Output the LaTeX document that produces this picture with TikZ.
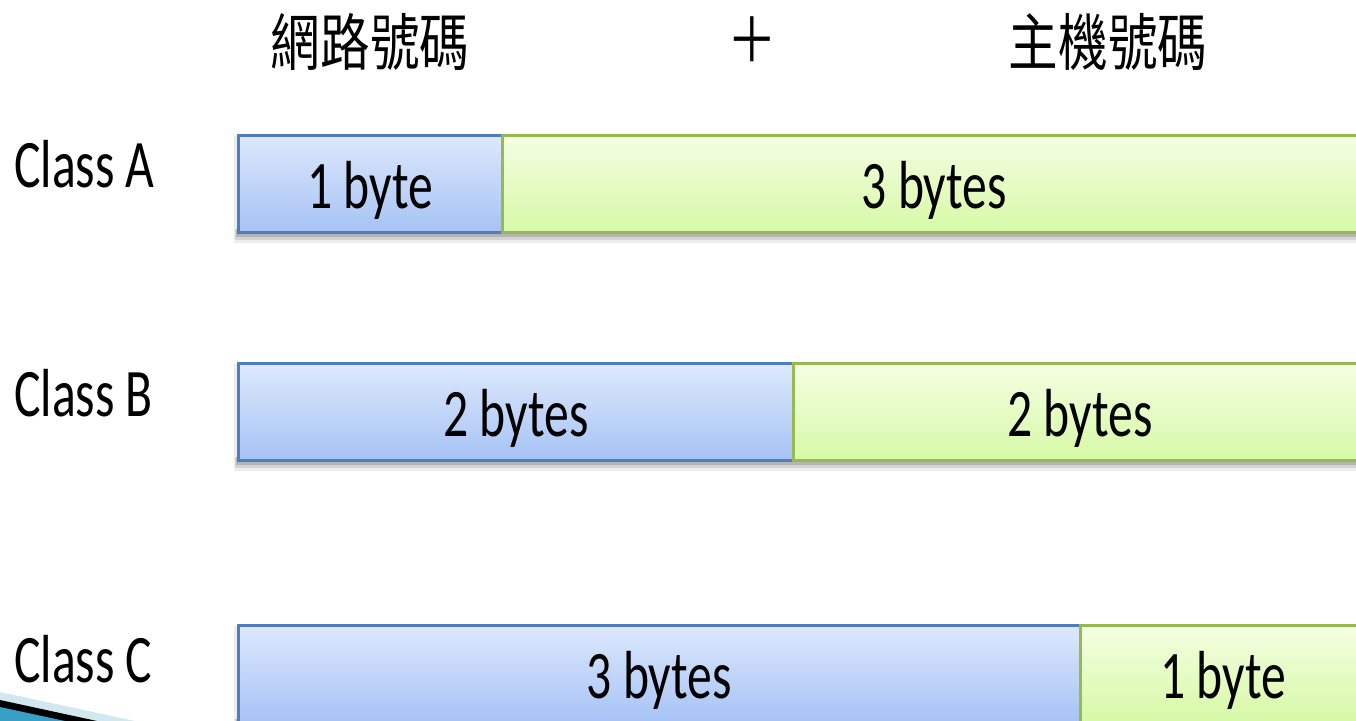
\documentclass[tikz,border=0pt]{standalone}
\usepackage{fontspec}
\setmainfont[FakeStretch=0.73]{Carlito}
\newfontfamily\cjk[FakeStretch=0.8]{Noto Sans CJK TC}
\usetikzlibrary{calc}
\definecolor{bluetop}{HTML}{DDE8FC}
\definecolor{bluebot}{HTML}{A6C3F5}
\definecolor{blueline}{HTML}{4F7EC0}
\definecolor{greentop}{HTML}{F5FEE3}
\definecolor{greenbot}{HTML}{D6F9A6}
\definecolor{greenline}{HTML}{96B952}
\definecolor{decoblue}{HTML}{D3E7EF}
\definecolor{decoteal}{HTML}{3A9FC6}
\begin{document}
\begin{tikzpicture}[x=1pt,y=-1pt,
  netbox/.style={rectangle,anchor=north west,inner sep=0pt,line width=2.6pt,
    draw=blueline,top color=bluetop,bottom color=bluebot},
  hostbox/.style={rectangle,anchor=north west,inner sep=0pt,line width=2.6pt,
    draw=greenline,top color=greentop,bottom color=greenbot},
  lbl/.style={anchor=base,inner sep=0pt,font=\fontsize{68}{80}\selectfont},
  cls/.style={anchor=base west,inner sep=0pt,font=\fontsize{68}{80}\selectfont},
  ttl/.style={inner sep=0pt,font=\cjk\fontsize{62}{70}\selectfont}]
\useasboundingbox (0,0) rectangle (1356,720);
\clip (0,0) rectangle (1356,720);
\fill[white] (0,0) rectangle (1356,720);
% titles
\node[ttl] (net) at (370,42) {網路號碼};
\node[ttl] (plus) at (752,40) {＋};
\node[ttl] (host) at (1108,42) {主機號碼};
% shadows
\foreach \ya/\yb in {134/231,362/459,624/721}{
  \fill[black,opacity=0.07] (234,\ya+2) rectangle (1370,\yb+12);
  \fill[black,opacity=0.10] (235,\yb-2) rectangle (1370,\yb+9);
  \fill[black,opacity=0.15] (236,\yb-2) rectangle (1370,\yb+6);
}
% class A
\node[netbox,minimum width=264pt,minimum height=97pt] (a1) at (237,134) {};
\node[hostbox,minimum width=864pt,minimum height=97pt] (a2) at (501,134) {};
\node[lbl] (ta1) at ($(a1.center)+(0,24.5)$) {1 byte};
\node[lbl] (ta2) at ($(a2.center)+(0,24.5)$) {3 bytes};
\node[cls] (ca) at (14,187) {Class A};
% class B
\node[netbox,minimum width=555pt,minimum height=97pt] (b1) at (237,362) {};
\node[hostbox,minimum width=573pt,minimum height=97pt] (b2) at (792,362) {};
\node[lbl] (tb1) at ($(b1.center)+(0,24.5)$) {2 bytes};
\node[lbl] (tb2) at ($(b2.center)+(0,24.5)$) {2 bytes};
\node[cls] (cb) at (14,416) {Class B};
% class C
\node[netbox,minimum width=842pt,minimum height=97pt] (c1) at (237,624) {};
\node[hostbox,minimum width=286pt,minimum height=97pt] (c2) at (1079,624) {};
\node[lbl] (tc1) at ($(c1.center)+(0,24.5)$) {3 bytes};
\node[lbl] (tc2) at ($(c2.center)+(0,24.5)$) {1 byte};
\node[cls] (cc) at (14,682) {Class C};
% decoration bottom-left
\fill[decoblue] (0,692) -- (135,721) -- (0,721) -- cycle;
\fill[black] (0,700) -- (97,721) -- (0,721) -- cycle;
\fill[decoteal] (0,707) -- (65,721) -- (0,721) -- cycle;
\end{tikzpicture}
\end{document}
